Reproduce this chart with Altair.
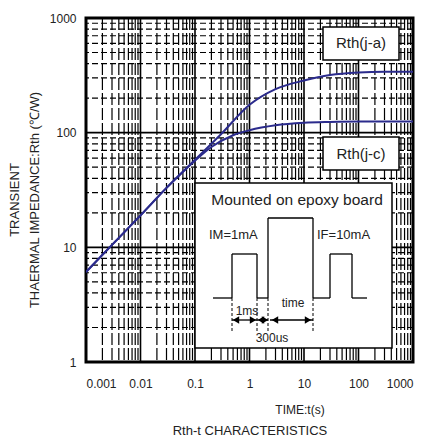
import altair as alt
import pandas as pd

# ---- data ----
t_ja = [0.001, 0.003, 0.01, 0.03, 0.1, 0.3, 1, 3, 10, 30, 100, 300, 1000]
r_ja = [6.1, 10.5, 19, 33, 58, 97, 175, 240, 285, 318, 335, 340, 340]
t_jc = [0.001, 0.003, 0.01, 0.03, 0.1, 0.2, 0.5, 1, 3, 10, 30, 100, 1000]
r_jc = [6.1, 10.5, 19, 33, 57, 75, 95, 105, 116, 122, 124, 125, 125]

x_ticks = [0.001, 0.01, 0.1, 1, 10, 100, 1000]
y_ticks = [1, 10, 100, 1000]
minor_steps = [2, 3, 4, 5, 6, 7, 8, 9]

W, H = 327, 344
FONT = "Liberation Sans"
CURVE = "#2b2b8c"

x_minor = [d * m for d in x_ticks[:-1] for m in minor_steps]
y_minor = [d * m for d in y_ticks[:-1] for m in minor_steps]

xs = alt.Scale(type="log", domain=[0.001, 1000])
ys = alt.Scale(type="log", domain=[1, 1000])

curves = pd.concat([
    pd.DataFrame({"t": t_ja, "r": r_ja, "s": "ja"}),
    pd.DataFrame({"t": t_jc, "r": r_jc, "s": "jc"}),
])

one = pd.DataFrame({"a": [0]})

vminor = alt.Chart(pd.DataFrame({"v": x_minor})).mark_rule(
    color="black", strokeWidth=1.2, strokeDash=[12, 3]).encode(x=alt.X("v:Q", scale=xs))
hminor = alt.Chart(pd.DataFrame({"v": y_minor})).mark_rule(
    color="black", strokeWidth=1.2, strokeDash=[6, 3]).encode(y=alt.Y("v:Q", scale=ys))
vmajor = alt.Chart(pd.DataFrame({"v": x_ticks})).mark_rule(
    color="black", strokeWidth=1.6).encode(x=alt.X("v:Q", scale=xs))
hmajor = alt.Chart(pd.DataFrame({"v": y_ticks})).mark_rule(
    color="black", strokeWidth=1.6).encode(y=alt.Y("v:Q", scale=ys))

lines = alt.Chart(curves).mark_line(
    color=CURVE, strokeWidth=2, interpolate="monotone", clip=True).encode(
    x=alt.X("t:Q", scale=xs,
            axis=alt.Axis(values=x_ticks, format="~g", grid=False, ticks=False, domain=False,
                          labelFont=FONT, labelFontSize=12, labelColor="#222",
                          labelPadding=16, title=None)),
    y=alt.Y("r:Q", scale=ys,
            axis=alt.Axis(values=y_ticks, format="~g", grid=False, ticks=False, domain=False,
                          labelFont=FONT, labelFontSize=12, labelColor="#222",
                          labelPadding=10, title=None)),
    detail="s:N",
)


def box(x1, x2, y1, y2, sw=1.5):
    return alt.Chart(one).mark_rect(fill="white", stroke="black", strokeWidth=sw).encode(
        x=alt.value(x1), x2=alt.value(x2), y=alt.value(y1), y2=alt.value(y2))


def txt(s, x, y, size=12, align="center", angle=0, color="#222"):
    return alt.Chart(one).mark_text(
        text=s, font=FONT, fontSize=size, align=align, baseline="middle",
        angle=angle, color=color).encode(x=alt.value(x), y=alt.value(y))


def seg(x1, y1, x2, y2, dash=None, sw=1.3):
    kw = dict(color="black", strokeWidth=sw)
    if dash:
        kw["strokeDash"] = dash
    return alt.Chart(one).mark_rule(**kw).encode(
        x=alt.value(x1), x2=alt.value(x2), y=alt.value(y1), y2=alt.value(y2))


def tri(x, y, shape):
    return alt.Chart(one).mark_point(shape=shape, filled=True, color="black", size=55,
                                     opacity=1).encode(x=alt.value(x), y=alt.value(y))


# label boxes
labels = [
    box(237, 313, 9, 42), txt("Rth(j-a)", 275, 25, 15),
    box(237, 313, 119, 152), txt("Rth(j-c)", 275, 136, 15),
]

# inset diagram
base, low, high = 280, 236, 200
wave = [(127, 146), (146, 171), (171, 182), (182, 227), (227, 244), (244, 266), (266, 281)]
levels = [base, low, base, high, base, low, base]
inset = [box(109, 306, 165, 330)]
inset.append(txt("Mounted on epoxy board", 211, 182, 15.5))
inset.append(txt("IM=1mA", 123, 217, 13, align="left"))
inset.append(txt("IF=10mA", 231, 217, 13, align="left"))
prev = None
for (a, b), lv in zip(wave, levels):
    inset.append(seg(a, lv, b, lv))
    if prev is not None and prev != lv:
        inset.append(seg(a, prev, a, lv))
    prev = lv
for xv in [146, 171, 182, 227]:
    inset.append(seg(xv, base, xv, 314, dash=[3, 2], sw=1))
ay = 302
inset += [seg(146, ay, 171, ay), seg(171, ay, 182, ay), seg(184, ay, 227, ay)]
inset += [tri(150, ay, "triangle-left"), tri(167, ay, "triangle-right"),
          tri(175, ay, "triangle-left"), tri(179, ay, "triangle-right"),
          tri(189, ay, "triangle-left"), tri(222, ay, "triangle-right")]
inset.append(txt("1ms", 161, 293, 12))
inset.append(txt("time", 207, 285, 12))
inset.append(txt("300us", 186, 320, 12))

# axis titles
titles = [
    txt("TRANSIENT", -71, 182, 13, angle=270),
    txt("THAERMAL IMPEDANCE:Rth (\u2103/W)", -51, 182, 13, angle=270),
    txt("TIME:t(s)", 214, 392, 12),
    txt("Rth-t CHARACTERISTICS", 164, 413, 13),
]

chart = alt.layer(
    hminor, vminor, hmajor, vmajor, lines, *labels, *inset, *titles
).properties(
    width=W, height=H,
    autosize=alt.AutoSizeParams(type="none"),
    padding={"left": 78, "top": 10, "right": 8, "bottom": 80},
    background="white",
).configure_view(stroke="black", strokeWidth=3)

chart.save("out.html", embed_options={"renderer": "svg", "actions": False})
